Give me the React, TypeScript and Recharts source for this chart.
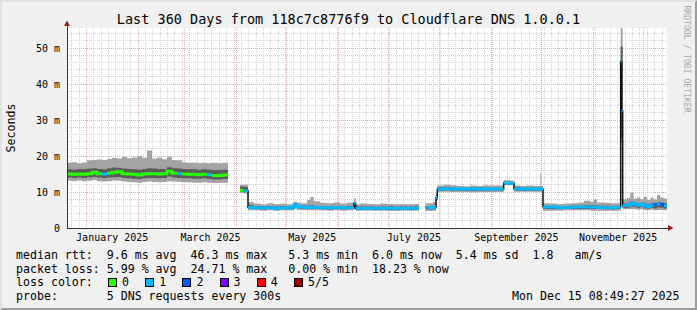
import React from "react";
import { ComposedChart, Area, Line, XAxis, YAxis, CartesianGrid } from "recharts";

const W = 697;
const H = 310;
const MONO = '"DejaVu Sans Mono", monospace';

const TITLE = "Last 360 Days from 118c7c8776f9 to Cloudflare DNS 1.0.0.1";

// window: 360 days ending Mon Dec 15 08:49:27 2025
const START = Date.UTC(2024, 11, 20, 8, 49, 27);
const SPAN = 360;
const toDay = (ms: number) => (ms - START) / 86400000;

// sample start (days into the window); null = no data
const DAYS = [
  0, 3, 6, 9, 12, 15, 18, 21, 24, 27, 30, 33, 36, 39, 42, 45,
  48, 51, 54, 57, 60, 63, 66, 69, 72, 75, 78, 81, 84, 87, 90, 93,
  96.6,
  103.8, 106,
  108.6, 112, 116, 120, 124, 128, 132, 136, 138, 140,
  144, 146, 148, 152, 156, 160, 164, 168, 172.2, 173.2,
  176, 180, 184, 188, 192, 196, 200, 204, 208,
  211.2,
  215, 219.5, 221.4, 222.2,
  226, 230, 234, 238, 242, 246, 250, 254, 258,
  262, 266, 268.2, 272, 276, 280, 284, 284.6,
  285.6, 290, 294, 298, 302, 306, 310, 314, 316, 318, 322, 326, 330,
  332.2, 332.8,
  333.4, 336, 338, 340, 342, 344, 346, 348, 350, 352, 354, 356, 358,
];

// rtt in ms: lowest ping, lower smoke, median, upper smoke, highest ping
const LO = [
  13.1, 13.0, 13.2, 13.0, 13.1, 13.3, 13.0, 12.9, 13.0, 13.2, 13.1, 12.9, 12.8, 12.7, 12.6, 12.8,
  12.9, 12.8, 12.7, 12.8, 13.0, 12.9, 12.8, 12.7, 12.7, 12.6, 12.6, 12.7, 12.6, 12.5, 12.5, 12.6,
  null,
  9.7, 9.6,
  4.9, 4.9, 4.8, 4.9, 4.8, 4.9, 4.9, 5.3, 5.0, 5.0,
  4.9, 4.9, 4.9, 4.9, 4.8, 4.9, 4.8, 4.9, 5.2, 4.8,
  4.8, 4.8, 4.8, 4.8, 4.7, 4.7, 4.8, 4.8, 4.8,
  null,
  4.7, 4.8, 7.5, 10.1,
  10.1, 10.0, 10.0, 10.0, 9.9, 10.0, 10.0, 10.0, 10.0,
  11.9, 11.9, 10.1, 10.1, 10.1, 10.1, 10.1, 10.1,
  4.8, 4.8, 4.8, 4.9, 4.9, 4.9, 4.9, 4.8, 4.8, 4.8, 4.8, 4.8, 4.8,
  24.0, 23.0,
  5.2, 5.2, 5.3, 5.2, 5.1, 5.2, 5.0, 5.0, 5.1, 4.9, 5.0, 5.0, 4.9,
];

const Q1 = [
  14.0, 13.9, 14.0, 13.9, 14.0, 14.2, 14.0, 13.9, 14.0, 14.1, 14.2, 13.9, 13.8, 13.7, 13.6, 13.8,
  13.9, 13.9, 13.8, 13.9, 14.3, 14.0, 13.9, 13.8, 13.8, 13.7, 13.7, 13.8, 13.6, 13.5, 13.5, 13.6,
  null,
  10.0, 9.9,
  5.3, 5.3, 5.2, 5.3, 5.2, 5.2, 5.2, 5.8, 5.5, 5.4,
  5.3, 5.3, 5.3, 5.2, 5.2, 5.3, 5.2, 5.3, 6.0, 5.2,
  5.2, 5.2, 5.1, 5.2, 5.1, 5.1, 5.2, 5.1, 5.2,
  null,
  5.2, 5.2, 7.8, 10.4,
  10.5, 10.4, 10.4, 10.4, 10.3, 10.4, 10.4, 10.4, 10.4,
  12.0, 12.0, 10.4, 10.4, 10.4, 10.4, 10.4, 10.4,
  5.3, 5.3, 5.3, 5.3, 5.3, 5.3, 5.3, 5.3, 5.3, 5.3, 5.2, 5.2, 5.3,
  25.0, 25.0,
  5.6, 5.6, 6.0, 5.8, 5.6, 5.8, 5.5, 5.4, 5.6, 5.4, 5.7, 5.6, 5.4,
];

const MED = [
  15.0, 14.9, 15.0, 14.9, 15.1, 15.5, 15.1, 15.0, 15.2, 15.5, 15.6, 15.1, 15.0, 14.9, 14.7, 15.0,
  15.1, 15.1, 15.0, 15.1, 15.8, 15.2, 15.1, 15.0, 14.9, 14.9, 14.8, 14.9, 14.8, 14.6, 14.6, 14.7,
  null,
  10.5, 10.3,
  5.7, 5.6, 5.6, 5.6, 5.5, 5.6, 5.6, 6.4, 6.0, 5.8,
  5.7, 5.8, 5.7, 5.6, 5.6, 5.7, 5.6, 5.6, 6.9, 5.5,
  5.5, 5.5, 5.5, 5.5, 5.5, 5.4, 5.5, 5.5, 5.5,
  null,
  5.7, 5.7, 8.5, 10.8,
  10.9, 10.8, 10.8, 10.8, 10.8, 10.8, 10.8, 10.8, 10.8,
  12.4, 12.4, 10.8, 10.8, 10.8, 10.8, 10.8, 10.8,
  5.8, 5.8, 5.7, 5.7, 5.8, 5.8, 5.8, 5.8, 5.8, 5.7, 5.7, 5.7, 5.8,
  46.3, 32.6,
  6.3, 6.3, 6.9, 6.6, 6.3, 6.7, 6.2, 6.0, 6.3, 6.5, 6.7, 6.6, 6.2,
];

const Q3 = [
  16.3, 16.2, 16.4, 16.3, 16.5, 16.6, 16.4, 16.3, 16.6, 16.8, 16.7, 16.5, 16.4, 16.3, 16.2, 16.4,
  16.6, 16.5, 16.4, 16.4, 16.9, 16.6, 16.5, 16.4, 16.3, 16.3, 16.2, 16.3, 16.2, 16.1, 16.1, 16.2,
  null,
  11.5, 11.4,
  6.3, 6.1, 6.0, 6.1, 6.0, 6.1, 6.0, 6.8, 6.4, 6.2,
  6.2, 6.3, 6.1, 6.0, 6.0, 6.1, 6.0, 6.1, 7.2, 6.0,
  6.0, 6.0, 5.9, 6.0, 6.0, 5.9, 6.0, 5.9, 6.0,
  null,
  6.0, 6.1, 9.0, 11.3,
  11.3, 11.2, 11.2, 11.1, 11.2, 11.2, 11.2, 11.2, 11.2,
  12.8, 12.8, 11.3, 11.2, 11.2, 11.2, 11.3, 11.2,
  6.2, 6.1, 6.1, 6.1, 6.2, 6.2, 6.3, 6.3, 6.3, 6.2, 6.2, 6.1, 6.1,
  50.4, 50.4,
  6.8, 6.8, 7.3, 7.0, 6.9, 7.1, 6.8, 6.7, 6.9, 6.9, 7.2, 7.0, 6.8,
];

const HI = [
  18.1, 18.3, 18.0, 18.2, 18.8, 18.9, 19.0, 18.9, 19.2, 19.5, 19.3, 19.8, 19.4, 19.6, 20.0, 19.5,
  21.5, 19.3, 19.6, 19.1, 19.8, 18.9, 18.8, 18.3, 18.1, 18.2, 18.0, 18.1, 18.0, 18.1, 18.0, 18.1,
  null,
  12.0, 12.0,
  7.2, 6.8, 6.6, 6.9, 6.7, 6.8, 6.6, 7.3, 7.1, 6.9,
  7.8, 8.6, 7.4, 7.0, 6.9, 7.1, 6.8, 7.0, 8.2, 6.6,
  6.8, 6.7, 6.6, 6.8, 6.7, 6.6, 6.7, 6.6, 6.7,
  null,
  6.9, 7.2, 9.5, 11.8,
  12.0, 11.9, 11.7, 11.6, 11.8, 11.7, 11.9, 11.8, 11.8,
  13.3, 13.1, 11.8, 11.7, 11.8, 11.7, 15.3, 11.7,
  6.9, 6.8, 6.7, 6.8, 6.9, 7.0, 7.6, 7.3, 7.9, 7.1, 7.0, 6.9, 6.9,
  55.5, 55.5,
  8.0, 8.3, 9.8, 8.1, 8.5, 8.0, 8.7, 7.8, 8.4, 7.9, 9.2, 8.5, 8.2,
];

// lost pings out of 5 for each sample
const LOSS = [
  0, 0, 0, 0, 0, 0, 0, 1, 0, 0, 0, 0, 0, 0, 0, 0,
  0, 0, 0, 0, 0, 0, 1, 0, 0, 0, 0, 0, 1, 0, 0, 0,
  null,
  0, 1,
  1, 1, 1, 1, 1, 1, 1, 1, 1, 1,
  1, 1, 1, 1, 1, 1, 1, 1, 1, 1,
  1, 1, 1, 1, 1, 1, 1, 1, 1,
  null,
  1, 1, 1, 1,
  1, 1, 1, 1, 1, 1, 1, 1, 1,
  1, 1, 1, 1, 1, 1, 1, 1,
  1, 1, 1, 1, 1, 1, 1, 1, 1, 1, 1, 1, 1,
  1, 1,
  1, 1, 1, 1, 1, 1, 1, 1, 1, 2, 1, 2, 1,
];

const LOSS_LABELS = ["0", "1", "2", "3", "4", "5/5"];
const LOSS_COLORS = ["#26ff00", "#00b8ff", "#0059ff", "#7e00ff", "#ff0000", "#a10000"];

const MONTH_LABELS = ["January 2025", "March 2025", "May 2025", "July 2025", "September 2025", "November 2025"];
const LABEL_MONTHS = [0, 2, 4, 6, 8, 10];
const Y_TICKS = [0, 10, 20, 30, 40, 50];
const Y_MAX = 55.56;

const LEGEND_ROWS = [
  "median rtt:  9.6 ms avg  46.3 ms max   5.3 ms min  6.0 ms now  5.4 ms sd  1.8   am/s",
  "packet loss: 5.99 % avg  24.71 % max   0.00 % min  18.23 % now",
  "loss color:",
  "probe:       5 DNS requests every 300s",
];
const STAMP = "Mon Dec 15 08:49:27 2025";

// ---- derived tables ----
const LABEL_DAYS = LABEL_MONTHS.map(
  (m) => (toDay(Date.UTC(2025, m, 1)) + toDay(Date.UTC(2025, m + 1, 1))) / 2
);
const MONTH_DAYS = Array.from({ length: 12 }, (_, m) => toDay(Date.UTC(2025, m, 1)));
const MINOR_STEP = 31 / 7;
const MINOR_X: number[] = [];
for (let v = MONTH_DAYS[0] - 2 * MINOR_STEP; v < SPAN; v += MINOR_STEP) if (v > 0.5) MINOR_X.push(v);
const MINOR_Y: number[] = [];
for (let v = 2; v < Y_MAX; v += 2) MINOR_Y.push(v);
const MAJOR_Y = Y_TICKS.slice(1);

type Row = { d: number; [k: string]: unknown };
const rows: Row[] = [];
DAYS.forEach((d, i) => {
  const end = i + 1 < DAYS.length ? DAYS[i + 1] : SPAN;
  const m = MED[i];
  if (m == null) {
    rows.push({ d }, { d: end });
    return;
  }
  const vals = { outer: [LO[i], HI[i]], inner: [Q1[i], Q3[i]], med: m };
  const prev = i > 0 ? MED[i - 1] : null;
  if (prev != null && Math.abs(m - prev) > 1.2) {
    // break the coloured line so the jump shows as the thin black median
    rows.push({ d, outer: [LO[i - 1], HI[i - 1]], inner: [Q1[i - 1], Q3[i - 1]], med: prev });
  }
  const key = `c${LOSS[i]}`;
  rows.push({ d, ...vals, [key]: m }, { d: end, ...vals, [key]: m });
});

const tickFont = { fontFamily: MONO, fontSize: 10, fill: "#000" };

export default function App() {
  return (
    <div
      style={{
        position: "absolute",
        left: 0,
        top: 0,
        width: W,
        height: H,
        background: "#f0f0f0",
        fontFamily: MONO,
        color: "#000",
        overflow: "hidden",
      }}
    >
      <div
        style={{
          position: "absolute",
          left: 0,
          top: 11,
          width: W,
          textAlign: "center",
          fontSize: 13.5,
          lineHeight: "16px",
          whiteSpace: "pre",
        }}
      >
        {TITLE}
      </div>

      <div style={{ position: "absolute", left: 0, top: 0 }}>
        <ComposedChart width={W} height={H} data={rows} margin={{ top: 28, right: 30, bottom: 62, left: 0 }}>
          <CartesianGrid
            fill="#ffffff"
            fillOpacity={1}
            stroke="#d2d2d2"
            strokeDasharray="1 1"
            shapeRendering="crispEdges"
            horizontalValues={MINOR_Y}
            verticalValues={MINOR_X}
          />
          <CartesianGrid
            stroke="#f4a4a4"
            strokeDasharray="1 1"
            shapeRendering="crispEdges"
            horizontalValues={MAJOR_Y}
            verticalValues={MONTH_DAYS}
          />
          <XAxis
            type="number"
            dataKey="d"
            domain={[0, SPAN]}
            ticks={LABEL_DAYS}
            interval={0}
            allowDataOverflow
            tickFormatter={(_v: number, i: number) => MONTH_LABELS[i]}
            tickLine={false}
            tickSize={4}
            tickMargin={1.5}
            axisLine={{ stroke: "#333", shapeRendering: "crispEdges" }}
            tick={tickFont}
            height={20}
          />
          <YAxis
            type="number"
            domain={[0, Y_MAX]}
            ticks={Y_TICKS}
            interval={0}
            allowDataOverflow
            tickFormatter={(v: number) => (v === 0 ? "0" : `${v} m`)}
            tickLine={false}
            tickSize={5}
            tickMargin={2}
            axisLine={{ stroke: "#333", shapeRendering: "crispEdges" }}
            tick={tickFont}
            width={67}
          />
          <Area
            type="linear"
            dataKey={(r: Row) => r.outer}
            stroke="none"
            fill="#a3a3a3"
            fillOpacity={1}
            isAnimationActive={false}
            activeDot={false}
          />
          <Area
            type="linear"
            dataKey={(r: Row) => r.inner}
            stroke="none"
            fill="#5a5a5a"
            fillOpacity={1}
            isAnimationActive={false}
            activeDot={false}
          />
          <Line
            type="linear"
            dataKey="med"
            stroke="#111"
            strokeWidth={1.5}
            dot={false}
            activeDot={false}
            isAnimationActive={false}
          />
          {LOSS_COLORS.map((c, k) => (
            <Line
              key={c}
              type="linear"
              dataKey={`c${k}`}
              stroke={c}
              strokeWidth={3}
              dot={false}
              activeDot={false}
              isAnimationActive={false}
            />
          ))}
        </ComposedChart>
      </div>

      <svg width={W} height={H} style={{ position: "absolute", left: 0, top: 0, pointerEvents: "none" }}>
        <line x1={67} y1={28} x2={67} y2={23} stroke="#333" shapeRendering="crispEdges" />
        <polygon points="64,26 70,26 67,20.5" fill="#9c1f1f" />
        <line x1={667} y1={228} x2={669} y2={228} stroke="#333" shapeRendering="crispEdges" />
        <polygon points="668,225 668,231 673.5,228" fill="#9c1f1f" />
      </svg>

      <div
        style={{
          position: "absolute",
          left: 10.5,
          top: 127.5,
          transform: "translate(-50%, -50%) rotate(-90deg)",
          fontSize: 11.6,
          lineHeight: "14px",
          whiteSpace: "pre",
        }}
      >
        Seconds
      </div>

      <div
        style={{
          position: "absolute",
          left: 687,
          top: 59,
          transform: "translate(-50%, -50%) rotate(90deg)",
          fontSize: 8.1,
          lineHeight: "10px",
          color: "#a8a8a8",
          whiteSpace: "pre",
        }}
      >
        RRDTOOL / TOBI OETIKER
      </div>

      {LEGEND_ROWS.map((t, i) => (
        <div
          key={i}
          style={{
            position: "absolute",
            left: 16,
            top: 248 + i * 13.7,
            fontSize: 11.6,
            lineHeight: "14px",
            whiteSpace: "pre",
          }}
        >
          {t}
        </div>
      ))}

      {LOSS_LABELS.map((l, i) => (
        <React.Fragment key={l}>
          <div
            style={{
              position: "absolute",
              left: 108 + i * 37.2,
              top: 278,
              width: 7,
              height: 7,
              border: "1px solid #000",
              background: LOSS_COLORS[i],
            }}
          />
          <div
            style={{
              position: "absolute",
              left: 122 + i * 37.2,
              top: 248 + 2 * 13.7,
              fontSize: 11.6,
              lineHeight: "14px",
              whiteSpace: "pre",
            }}
          >
            {l}
          </div>
        </React.Fragment>
      ))}

      <div
        style={{
          position: "absolute",
          left: 512,
          top: 248 + 3 * 13.7,
          fontSize: 11.6,
          lineHeight: "14px",
          whiteSpace: "pre",
        }}
      >
        {STAMP}
      </div>

      <div
        style={{
          position: "absolute",
          left: 0,
          top: 0,
          width: W,
          height: H,
          boxSizing: "border-box",
          borderTop: "2px solid #e2e2e2",
          borderLeft: "2px solid #e2e2e2",
          borderRight: "2px solid #9c9c9c",
          borderBottom: "2px solid #9c9c9c",
          pointerEvents: "none",
        }}
      />
    </div>
  );
}
